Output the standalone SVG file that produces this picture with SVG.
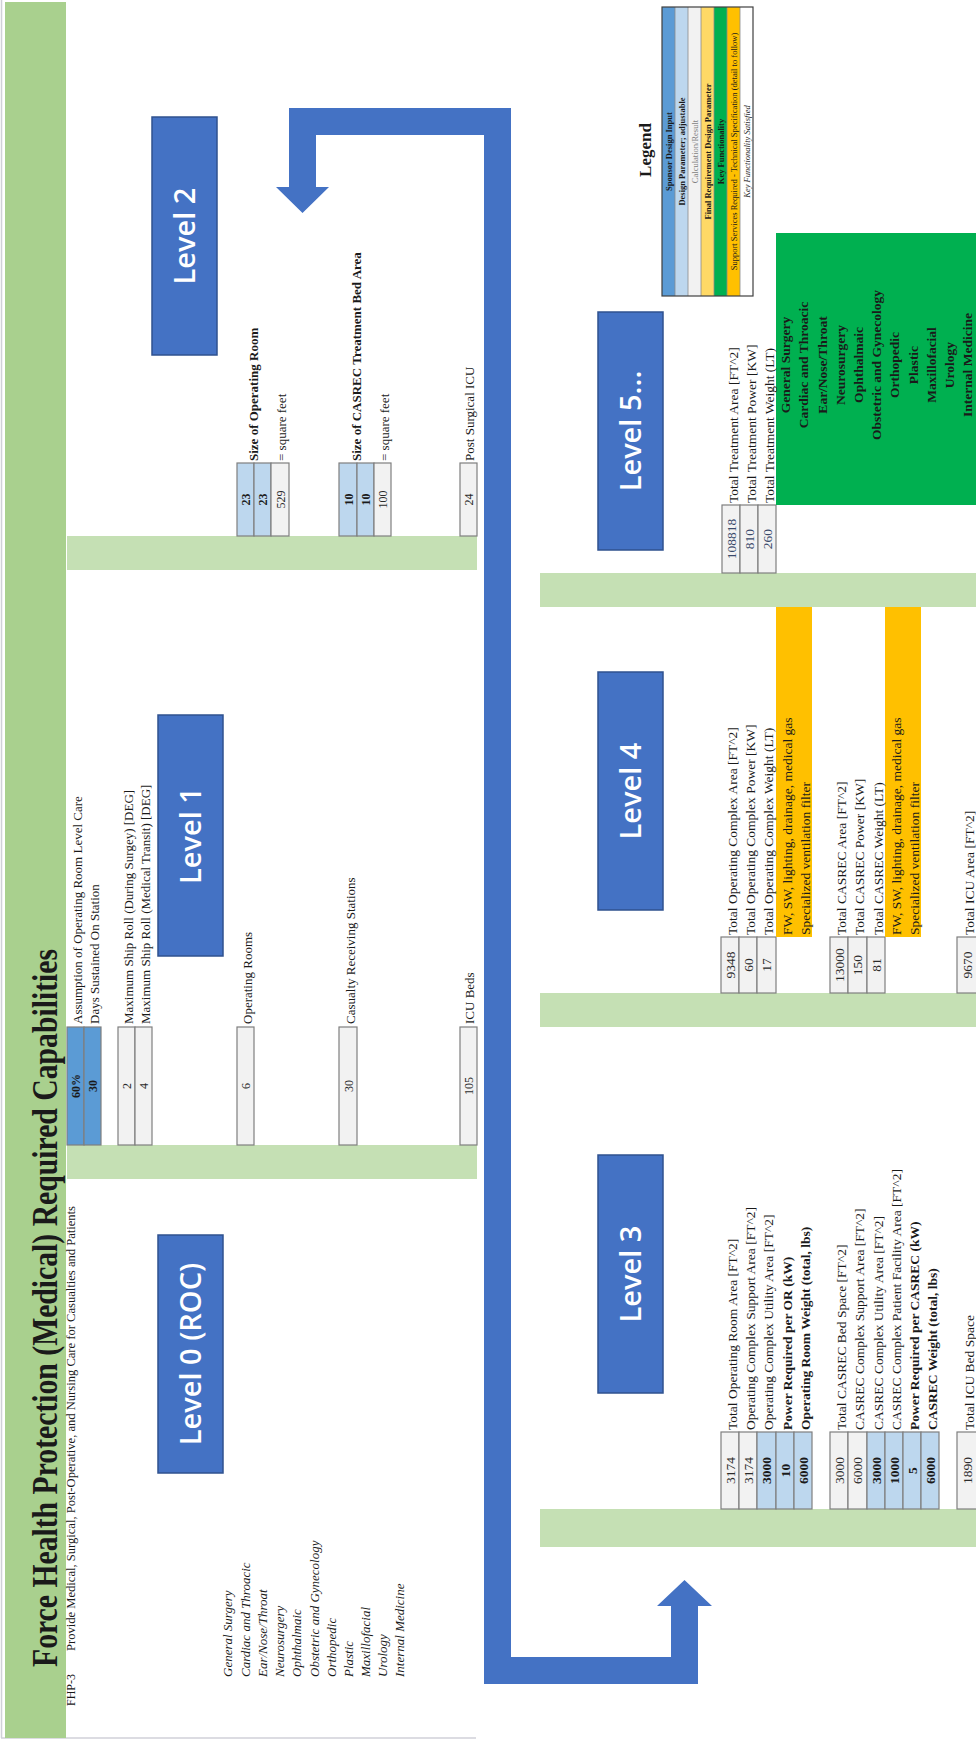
<svg xmlns="http://www.w3.org/2000/svg" width="976" height="1742" viewBox="0 0 976 1742">
  <style>
    .t { font-family: "Liberation Serif", "Times New Roman", serif; fill: #1a1a1a; }
    .f12 { font-size: 12px; }
    .f13 { font-size: 13.5px; }
    .b { font-weight: bold; }
    .it { font-style: italic; }
    .mid { text-anchor: middle; }
    .lvl { font-family: "Open Sans", "Liberation Sans", sans-serif; font-size: 29px; font-weight: 600; fill: #ffffff; text-anchor: middle; }
    .lvlbox { fill: #4472C4; stroke: #2F528F; stroke-width: 1.5; }
    .in { fill: #5B9BD5; stroke: #7F7F7F; stroke-width: 1.2; }
    .dp { fill: #BDD7EE; stroke: #7F7F7F; stroke-width: 1.2; }
    .calc { fill: #F2F2F2; stroke: #7F7F7F; stroke-width: 1.2; }
    .band { fill: #C5E0B4; }
    .num { fill: #2b2b2b; }
    .num5 { fill: #3A4A6B; }
    .lg { font-family: "Liberation Serif", "Times New Roman", serif; font-size: 8.5px; text-anchor: middle; fill: #1a1a1a; }
  </style>

  <rect width="976" height="1742" fill="#ffffff"/>

  <!-- outer frame of the capability sheet -->
  <line x1="1.5" y1="0" x2="1.5" y2="1738" stroke="#D0D0D8" stroke-width="1.5"/>
  <line x1="1" y1="1738" x2="476" y2="1738" stroke="#D0D0D8" stroke-width="1.5"/>

  <!-- title strip -->
  <rect x="5" y="2" width="61" height="1736" fill="#A9D08E"/>

  <!-- level separator bands -->
  <g id="bands">
    <rect class="band" x="67" y="1145" width="410" height="34"/>
    <rect class="band" x="67" y="536" width="410" height="34"/>
    <rect class="band" x="540" y="1509" width="436" height="38"/>
    <rect class="band" x="540" y="993" width="436" height="34"/>
    <rect class="band" x="540" y="573" width="436" height="34"/>
  </g>

  <!-- flow connector between the two rows of levels -->
  <g id="connectors">
    <path d="M289,108 L511,108 L511,1657 L671,1657 L671,1606 L657,1606 L684.5,1580 L712,1606 L698,1606 L698,1684 L484,1684 L484,135 L316,135 L316,187 L329,187 L302.5,213 L276,187 L289,187 Z" fill="#4472C4"/>
  </g>

  <!-- level label boxes -->
  <g id="level0"><rect class="lvlbox" x="158" y="1235" width="65" height="238"/></g>
  <g id="level1"><rect class="lvlbox" x="158" y="715" width="65" height="241"/></g>
  <g id="level2"><rect class="lvlbox" x="152" y="117" width="65" height="238"/></g>
  <g id="level3"><rect class="lvlbox" x="598" y="1155" width="65" height="238"/></g>
  <g id="level4"><rect class="lvlbox" x="598" y="672" width="65" height="238"/></g>
  <g id="level5"><rect class="lvlbox" x="598" y="312" width="65" height="238"/></g>

  <!-- level 1 inputs -->
  <g id="l1-inputs">
    <rect class="in" x="67" y="1027" width="17" height="118"/>
    <rect class="in" x="84" y="1027" width="17" height="118"/>
    <rect class="calc" x="118" y="1027" width="17" height="118"/>
    <rect class="calc" x="135" y="1027" width="17" height="118"/>
    <rect class="calc" x="237" y="1027" width="17" height="118"/>
    <rect class="calc" x="339" y="1027" width="18" height="118"/>
    <rect class="calc" x="460" y="1027" width="17" height="118"/>
  </g>

  <!-- level 2 inputs -->
  <g id="l2-inputs">
    <rect class="dp" x="237" y="463" width="17" height="73"/>
    <rect class="dp" x="254" y="463" width="17" height="73"/>
    <rect class="calc" x="271" y="463" width="18" height="73"/>
    <rect class="dp" x="339" y="463" width="18" height="73"/>
    <rect class="dp" x="357" y="463" width="17" height="73"/>
    <rect class="calc" x="374" y="463" width="17" height="73"/>
    <rect class="calc" x="460" y="463" width="17" height="73"/>
  </g>

  <!-- level 3 results -->
  <g id="l3-results">
    <rect class="calc" x="721" y="1432" width="18" height="77"/>
    <rect class="calc" x="739" y="1432" width="18" height="77"/>
    <rect class="dp" x="757" y="1432" width="19" height="77"/>
    <rect class="dp" x="776" y="1432" width="18" height="77"/>
    <rect class="dp" x="794" y="1432" width="18" height="77"/>
    <rect class="calc" x="830" y="1432" width="18" height="77"/>
    <rect class="calc" x="848" y="1432" width="19" height="77"/>
    <rect class="dp" x="867" y="1432" width="18" height="77"/>
    <rect class="dp" x="885" y="1432" width="18" height="77"/>
    <rect class="dp" x="903" y="1432" width="18" height="77"/>
    <rect class="dp" x="921" y="1432" width="18" height="77"/>
    <rect class="calc" x="957" y="1432" width="20" height="77"/>
  </g>

  <!-- level 4 results -->
  <g id="l4-results">
    <rect class="calc" x="721" y="937" width="18" height="56"/>
    <rect class="calc" x="739" y="937" width="18" height="56"/>
    <rect class="calc" x="757" y="937" width="19" height="56"/>
    <rect class="calc" x="830" y="937" width="18" height="56"/>
    <rect class="calc" x="848" y="937" width="19" height="56"/>
    <rect class="calc" x="867" y="937" width="18" height="56"/>
    <rect class="calc" x="957" y="937" width="20" height="56"/>
    <rect x="776" y="607" width="36" height="330" fill="#FFC000"/>
    <rect x="885" y="607" width="36" height="330" fill="#FFC000"/>
  </g>

  <!-- level 5 results -->
  <g id="l5-results">
    <rect class="calc" x="722" y="505" width="18" height="68"/>
    <rect class="calc" x="740" y="505" width="18" height="68"/>
    <rect class="calc" x="758" y="505" width="18" height="68"/>
    <rect x="776" y="233" width="200" height="272" fill="#00B050"/>
  </g>

  <!-- legend -->
  <g id="legend">
    <rect x="662" y="7" width="13" height="289" fill="#5B9BD5"/>
    <rect x="675" y="7" width="13" height="289" fill="#BDD7EE"/>
    <rect x="688" y="7" width="13" height="289" fill="#F2F2F2"/>
    <rect x="701" y="7" width="13" height="289" fill="#FFD966"/>
    <rect x="714" y="7" width="13" height="289" fill="#00B050"/>
    <rect x="727" y="7" width="13" height="289" fill="#FFC000"/>
    <rect x="740" y="7" width="13" height="289" fill="#ffffff"/>
    <g stroke="#8C8C8C" stroke-width="0.8">
      <line x1="675" y1="7" x2="675" y2="296"/>
      <line x1="688" y1="7" x2="688" y2="296"/>
      <line x1="701" y1="7" x2="701" y2="296"/>
      <line x1="714" y1="7" x2="714" y2="296"/>
      <line x1="727" y1="7" x2="727" y2="296"/>
      <line x1="740" y1="7" x2="740" y2="296"/>
    </g>
    <rect x="662" y="7" width="91" height="289" fill="none" stroke="#404040" stroke-width="1.2"/>
  </g>

  <!-- all sheet text runs bottom-to-top -->
  <g transform="rotate(-90)">
    <!-- header -->
    <text class="t b" x="-1667" y="57" font-size="36" textLength="718" lengthAdjust="spacingAndGlyphs">Force Health Protection (Medical) Required Capabilities</text>
    <text class="t f12" x="-1706" y="75">FHP-3</text>
    <text class="t f12" x="-1651" y="75" textLength="445" lengthAdjust="spacingAndGlyphs">Provide Medical, Surgical, Post-Operative, and Nursing Care for Casualties and Patients</text>

    <!-- level titles -->
    <text class="lvl" x="-1354" y="201">Level 0 (ROC)</text>
    <text class="lvl" x="-835.5" y="201">Level 1</text>
    <text class="lvl" x="-236" y="195">Level 2</text>
    <text class="lvl" x="-1274" y="641">Level 3</text>
    <text class="lvl" x="-791" y="641">Level 4</text>
    <text class="lvl" x="-431" y="641">Level 5...</text>

    <!-- level 0 specialties -->
    <g class="t it" font-size="13">
      <text x="-1677" y="232">General Surgery</text>
      <text x="-1677" y="249.5">Cardiac and Throacic</text>
      <text x="-1677" y="266.5">Ear/Nose/Throat</text>
      <text x="-1677" y="284">Neurosurgery</text>
      <text x="-1677" y="301">Ophthalmaic</text>
      <text x="-1677" y="318.5">Obstetric and Gynecology</text>
      <text x="-1677" y="335.5">Orthopedic</text>
      <text x="-1677" y="352.5">Plastic</text>
      <text x="-1677" y="369.5">Maxillofacial</text>
      <text x="-1677" y="387">Urology</text>
      <text x="-1677" y="404">Internal Medicine</text>
    </g>

    <!-- level 1 values and labels -->
    <g class="t f12 mid">
      <text class="b" x="-1086" y="79.5">60%</text>
      <text class="b" x="-1086" y="96.5">30</text>
      <text class="num" x="-1086" y="130.5">2</text>
      <text class="num" x="-1086" y="147.5">4</text>
      <text class="num" x="-1086" y="249.5">6</text>
      <text class="num" x="-1086" y="352.5">30</text>
      <text class="num" x="-1086" y="472.5">105</text>
    </g>
    <g class="t" font-size="13">
      <text x="-1024" y="81.5">Assumption of Operating Room  Level Care</text>
      <text x="-1024" y="98.5">Days Sustained On Station</text>
      <text x="-1024" y="132.5">Maximum Ship Roll (During Surgey) [DEG]</text>
      <text x="-1024" y="149.5">Maximum Ship Roll (Medical Transit) [DEG]</text>
      <text x="-1024" y="251.5">Operating Rooms</text>
      <text x="-1024" y="354.5">Casualty Receiving Stations</text>
      <text x="-1024" y="474">ICU Beds</text>
    </g>

    <!-- level 2 values and labels -->
    <g class="t f12 mid">
      <text class="b" x="-499.5" y="249.5">23</text>
      <text class="b" x="-499.5" y="266.5">23</text>
      <text class="num" x="-499.5" y="284.5">529</text>
      <text class="b" x="-499.5" y="352.5">10</text>
      <text class="b" x="-499.5" y="369.5">10</text>
      <text class="num" x="-499.5" y="386.5">100</text>
      <text class="num" x="-499.5" y="472.5">24</text>
    </g>
    <g class="t" font-size="13">
      <text class="b" x="-461" y="258">Size of Operating Room</text>
      <text x="-461" y="286">= square feet</text>
      <text class="b" x="-461" y="361">Size of CASREC Treatment Bed Area</text>
      <text x="-461" y="388.5">= square feet</text>
      <text x="-461" y="473.5">Post Surgical ICU</text>
    </g>

    <!-- level 3 values and labels -->
    <g class="t f13 mid">
      <text class="num" x="-1470.5" y="734.5">3174</text>
      <text class="num" x="-1470.5" y="752.5">3174</text>
      <text class="b" x="-1470.5" y="771">3000</text>
      <text class="b" x="-1470.5" y="789.5">10</text>
      <text class="b" x="-1470.5" y="807.5">6000</text>
      <text class="num" x="-1470.5" y="843.5">3000</text>
      <text class="num" x="-1470.5" y="862">6000</text>
      <text class="b" x="-1470.5" y="880.5">3000</text>
      <text class="b" x="-1470.5" y="898.5">1000</text>
      <text class="b" x="-1470.5" y="916.5">5</text>
      <text class="b" x="-1470.5" y="934.5">6000</text>
      <text class="num" x="-1470.5" y="972">1890</text>
    </g>
    <g class="t f13">
      <text x="-1430" y="736.5">Total Operating Room Area [FT^2]</text>
      <text x="-1430" y="754.5">Operating Complex Support Area [FT^2]</text>
      <text x="-1430" y="773">Operating Complex Utility Area [FT^2]</text>
      <text class="b" x="-1430" y="791.5">Power Required per OR (kW)</text>
      <text class="b" x="-1430" y="809.5">Operating Room Weight (total, lbs)</text>
      <text x="-1430" y="845.5">Total CASREC Bed Space [FT^2]</text>
      <text x="-1430" y="864">CASREC Complex Support Area [FT^2]</text>
      <text x="-1430" y="882.5">CASREC Complex Utility Area [FT^2]</text>
      <text x="-1430" y="900.5">CASREC Complex Patient Facility Area [FT^2]</text>
      <text class="b" x="-1430" y="918.5">Power Required per CASREC (kW)</text>
      <text class="b" x="-1430" y="936.5">CASREC Weight (total, lbs)</text>
      <text x="-1430" y="973.5">Total ICU Bed Space</text>
    </g>

    <!-- level 4 values and labels -->
    <g class="t f13 mid">
      <text class="num" x="-965" y="734.5">9348</text>
      <text class="num" x="-965" y="752.5">60</text>
      <text class="num" x="-965" y="771">17</text>
      <text class="num" x="-965" y="843.5">13000</text>
      <text class="num" x="-965" y="862">150</text>
      <text class="num" x="-965" y="880.5">81</text>
      <text class="num" x="-965" y="972">9670</text>
    </g>
    <g class="t f13">
      <text x="-935" y="736.5">Total Operating Complex Area [FT^2]</text>
      <text x="-935" y="754.5">Total Operating Complex Power [KW]</text>
      <text x="-935" y="773">Total Operating Complex Weight (LT)</text>
      <text x="-935" y="791.5">FW, SW, lighting, drainage, medical gas</text>
      <text x="-935" y="809.5">Specialized ventilation filter</text>
      <text x="-935" y="845.5">Total CASREC Area [FT^2]</text>
      <text x="-935" y="864">Total CASREC Power [KW]</text>
      <text x="-935" y="882.5">Total CASREC Weight (LT)</text>
      <text x="-935" y="900.5">FW, SW, lighting, drainage, medical gas</text>
      <text x="-935" y="918.5">Specialized ventilation filter</text>
      <text x="-935" y="973.5">Total ICU Area [FT^2]</text>
    </g>

    <!-- level 5 values and labels -->
    <g class="t f13 mid">
      <text class="num5" x="-539" y="735.5">108818</text>
      <text class="num5" x="-539" y="753.5">810</text>
      <text class="num5" x="-539" y="771.5">260</text>
    </g>
    <g class="t f13">
      <text x="-503" y="737.5">Total Treatment Area [FT^2]</text>
      <text x="-503" y="755.5">Total Treatment Power [KW]</text>
      <text x="-503" y="773.5">Total Treatment Weight (LT)</text>
    </g>
    <g class="t f13 b mid">
      <text x="-365" y="790">General Surgery</text>
      <text x="-365" y="808">Cardiac and Throacic</text>
      <text x="-365" y="826.5">Ear/Nose/Throat</text>
      <text x="-365" y="844.5">Neurosurgery</text>
      <text x="-365" y="863">Ophthalmaic</text>
      <text x="-365" y="881">Obstetric and Gynecology</text>
      <text x="-365" y="899">Orthopedic</text>
      <text x="-365" y="917.5">Plastic</text>
      <text x="-365" y="935.5">Maxillofacial</text>
      <text x="-365" y="954">Urology</text>
      <text x="-365" y="972">Internal Medicine</text>
    </g>

    <!-- legend text -->
    <text class="t b mid" x="-150" y="651" font-size="17">Legend</text>
    <text class="lg b" x="-151.5" y="671.5" fill="#1F2A44">Sponsor Design Input</text>
    <text class="lg b" x="-151.5" y="684.5">Design Parameter; adjustable</text>
    <text class="lg" x="-151.5" y="697.5" style="fill:#7F7F7F">Calculation/Result</text>
    <text class="lg b" x="-151.5" y="710.5">Final Requirement Design Parameter</text>
    <text class="lg b" x="-151.5" y="723.5">Key Functionality</text>
    <text class="lg" x="-151.5" y="736.5">Support Services Required - Technical Specification (detail to follow)</text>
    <text class="lg it" x="-151.5" y="749.5">Key Functionality Satisfied</text>
  </g>
</svg>
